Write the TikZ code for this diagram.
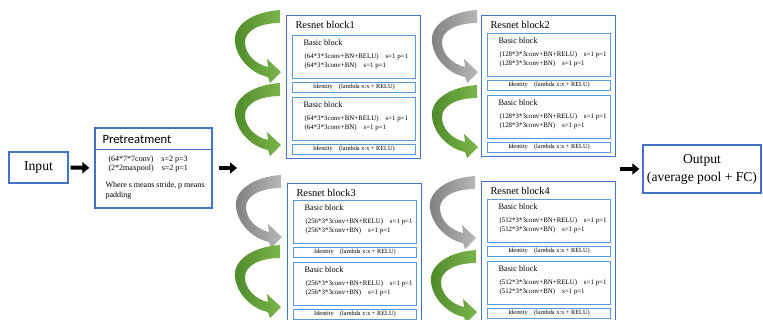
\documentclass[tikz,border=0pt]{standalone}
\usepackage{fontspec}
\setmainfont{Liberation Serif}
\newfontfamily\calibri{Carlito}
\usetikzlibrary{arrows.meta}

\definecolor{boxblue}{HTML}{4472C4}
\definecolor{cellblue}{HTML}{5B9BD5}
\definecolor{leafdark}{HTML}{4E8A2A}
\definecolor{leaflight}{HTML}{7CB54C}
\definecolor{stonedark}{HTML}{7F7F7F}
\definecolor{stonelight}{HTML}{B8B8B8}

\tikzset{
  bigbox/.style={draw=boxblue, line width=1.3pt, inner sep=0pt},
  cellbox/.style={draw=cellblue, line width=0.9pt, inner sep=0pt},
  push/.style={line width=4pt, -{Triangle[length=7pt,width=11pt]}},
  leaf/.style={left color=leafdark, right color=leaflight},
  stone/.style={left color=stonedark, right color=stonelight},
  % curved arrow, tip at the origin
  bend arrow/.pic={
    \path[pic actions] (-1,-62) .. controls (-30,-60) and (-48,-46) .. (-46,-30)
      .. controls (-44,-12) and (-28,2) .. (-13,5) -- (-11,11) -- (0,0)
      -- (-14,-13) -- (-13,-5) .. controls (-26,-8) and (-36,-18) .. (-36,-30)
      .. controls (-36,-42) and (-20,-49) .. (-1,-49) -- cycle;
  }
}

\begin{document}
\begin{tikzpicture}[x=1pt, y=-1pt]
  \useasboundingbox (0,0) rectangle (763,320);
  \clip (0,0) rectangle (763,320);

  % input and pretreatment
  \node[bigbox, minimum width=59pt, minimum height=31pt, font=\fontsize{13.7}{16}\selectfont] (input) at (38.5,167.5) {Input};
  \node[bigbox, minimum width=117pt, minimum height=80pt] (pre) at (153.5,168) {};
  \node[anchor=base west, font=\calibri\fontsize{12.6}{15}\selectfont] (pretitle) at (99,144) {Pretreatment};
  \draw[boxblue, line width=0.9pt] (pre.north west) ++(0,22) -- ++(117,0);
  \node[anchor=base west, font=\fontsize{8}{10}\selectfont] (prekernel) at (105,162) {(64*7*7conv)\quad s=2 p=3};
  \node[anchor=base west, font=\fontsize{8}{10}\selectfont] (prepool) at (105,171) {(2*2maxpool)\quad s=2 p=1};
  \node[anchor=base west, font=\fontsize{8}{10}\selectfont] (prenote) at (102,188) {Where s means stride, p means};
  \node[anchor=base west, font=\fontsize{8}{10}\selectfont] (prenote2) at (102,198) {padding};

  % residual stages
  \foreach \n/\bx/\by/\iy/\ch in {1/286/15/35/64, 2/481/15/33/128, 3/287/183/200/256, 4/481/181/199/512}{
    \pgfmathsetmacro\bh{\iy+123-\by}
    \node[bigbox, anchor=north west, minimum width=134pt, minimum height=\bh pt] (blk\n) at (\bx,\by) {};
    \node[anchor=base west, font=\fontsize{10.4}{12}\selectfont] (title\n) at (\bx+6,\by+14) {Resnet block\n};
    \foreach \k/\top in {a/0, b/62}{
      \node[cellbox, anchor=north west, minimum width=123pt, minimum height=43pt] (basic\n\k) at (\bx+6,\iy+\top) {};
      \node[anchor=base west, font=\fontsize{8.3}{10}\selectfont] (head\n\k) at (\bx+14,\iy+\top+11) {Basic block};
      \node[anchor=base west, font=\fontsize{6.9}{8}\selectfont] (conv\n\k) at (\bx+15,\iy+\top+23.5) {(\ch*3*3conv+BN+RELU)\quad s=1 p=1};
      \node[anchor=base west, font=\fontsize{6.9}{8}\selectfont] (bn\n\k) at (\bx+15,\iy+\top+32.5) {(\ch*3*3conv+BN)\quad s=1 p=1};
      \node[cellbox, anchor=north west, minimum width=123pt, minimum height=10pt, font=\fontsize{6.3}{7}\selectfont] (id\n\k) at (\bx+6,\iy+\top+47) {Identity\quad(lambda x:x + RELU)};
    }
  }

  % curved skip arrows
  \foreach \tx/\ty/\kind in {281/72/leaf, 281/145/leaf, 282/237/stone, 281/307/leaf,
                             478/72/stone, 478/147/leaf, 476/238/stone, 477/312/leaf}
    \pic[\kind] at (\tx,\ty) {bend arrow};

  % output
  \node[bigbox, minimum width=118pt, minimum height=48pt, align=center, font=\fontsize{13.6}{18}\selectfont] (out) at (702,169) {Output\\(average pool + FC)};

  \coordinate (split) at (237,168);
  \coordinate (merge) at (620,169);
  \draw[push, shorten <=2pt, shorten >=5pt] (input.east) -- (pre.west);
  \draw[push, shorten <=6pt] (pre.east) -- (split);
  \draw[push, shorten >=3pt] (merge) -- (out.west);
\end{tikzpicture}
\end{document}
